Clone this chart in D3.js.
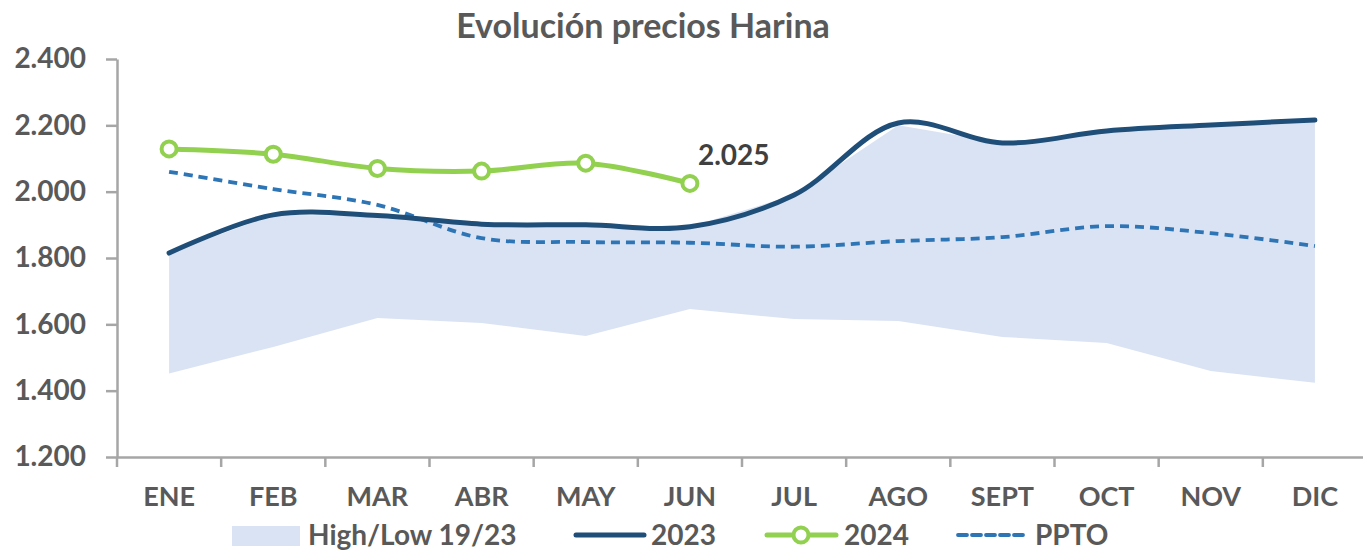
<!DOCTYPE html>
<html><head><meta charset="utf-8">
<script src="https://cdn.jsdelivr.net/npm/d3@7"></script>
<style>body{margin:0;background:#fff;}svg{display:block;font-family:Lato,"Open Sans",sans-serif;}</style>
</head><body>
<svg id="c" width="1363" height="550"></svg>
<script>
const months = ["ENE","FEB","MAR","ABR","MAY","JUN","JUL","AGO","SEPT","OCT","NOV","DIC"];
const high1923 = [1815,1930,1928,1902,1900,1894,1990,2200,2147,2183,2201,2216];
const low1923  = [1452,1532,1619,1604,1565,1646,1616,1610,1562,1544,1459,1424];
const s2023 = [1815,1930,1928,1902,1900,1894,1990,2207,2147,2183,2201,2216];
const s2024 = [2129,2113,2070,2062,2086,2025];
const ppto  = [2060,2008,1960,1860,1848,1846,1834,1851,1863,1896,1875,1836];
const yTicks = [1200,1400,1600,1800,2000,2200,2400];
const title = "Evolución precios Harina";
const legendLabels = ["High/Low 19/23","2023","2024","PPTO"];

const svg = d3.select("#c");
const loc = d3.formatLocale({decimal:",", thousands:".", grouping:[3], currency:["",""]});
const fmt = loc.format(",.0f");
const fmt3 = loc.format(",");

const x = d3.scaleBand().domain(months).range([117, 1367]);
const cx = m => x(m) + x.bandwidth()/2;
const y = d3.scaleLinear().domain([1200, 2400]).range([457, 59]);

// band
const bandData = months.map((m,i)=>({m, lo: low1923[i], hi: high1923[i]}));
svg.append("path").datum(bandData)
  .attr("fill","#dae3f3")
  .attr("d", d3.area().x(d=>cx(d.m)).y0(d=>y(d.lo)).y1(d=>y(d.hi)));

// axes
const gy = svg.append("g").attr("transform","translate(117,0)")
  .call(d3.axisLeft(y).tickValues(yTicks).tickFormat(fmt).tickSizeInner(11).tickSizeOuter(0).tickPadding(20));
gy.select(".domain").attr("stroke","#a6a6a6").attr("stroke-width",2.5);
gy.selectAll(".tick line").attr("stroke","#a6a6a6").attr("stroke-width",2.5);
gy.selectAll(".tick text").attr("fill","#595959").attr("font-size",28).attr("font-weight","bold").attr("font-family","Lato,sans-serif");

const gx = svg.append("g").attr("transform","translate(0,457)")
  .call(d3.axisBottom(x).tickSize(0).tickPadding(30));
gx.select(".domain").attr("stroke","#a6a6a6").attr("stroke-width",2.5);
gx.selectAll(".tick text").attr("fill","#595959").attr("font-size",27).attr("font-weight","bold").attr("font-family","Lato,sans-serif");
// category boundary ticks
const bounds = months.map(m=>x(m)).concat([x.range()[1]]);
gx.selectAll("line.bt").data(bounds).enter().append("line")
  .attr("x1",d=>d).attr("x2",d=>d).attr("y1",0).attr("y2",10)
  .attr("stroke","#a6a6a6").attr("stroke-width",2.5);

const curve = d3.curveCatmullRom.alpha(0.5);

// PPTO
svg.append("path").datum(ppto)
  .attr("fill","none").attr("stroke","#2e75b6").attr("stroke-width",3.8)
  .attr("stroke-dasharray","9,6")
  .attr("d", d3.line().x((d,i)=>cx(months[i])).y(d=>y(d)).curve(curve));

// 2023
svg.append("path").datum(s2023)
  .attr("fill","none").attr("stroke","#1f4e79").attr("stroke-width",5).attr("stroke-linecap","round")
  .attr("d", d3.line().x((d,i)=>cx(months[i])).y(d=>y(d)).curve(curve));

// 2024
svg.append("path").datum(s2024)
  .attr("fill","none").attr("stroke","#92d050").attr("stroke-width",5)
  .attr("d", d3.line().x((d,i)=>cx(months[i])).y(d=>y(d)).curve(curve));
svg.selectAll("circle.p24").data(s2024).enter().append("circle")
  .attr("cx",(d,i)=>cx(months[i])).attr("cy",d=>y(d)).attr("r",7.5)
  .attr("fill","#fff").attr("stroke","#92d050").attr("stroke-width",4);

// data label
const lastI = s2024.length-1;
svg.append("text").attr("x", cx(months[lastI]) + 8).attr("y", y(s2024[lastI]) - 18)
  .attr("fill","#404040").attr("font-size",28).attr("font-weight","bold")
  .text(fmt3(s2024[lastI]));

// title
svg.append("text").attr("x",643).attr("y",38).attr("text-anchor","middle")
  .attr("fill","#595959").attr("font-size",34).attr("font-weight","bold").text(title);

// legend
const lg = svg.append("g").attr("font-size",28).attr("font-weight","bold").attr("fill","#595959");
const ly = 535;
lg.append("rect").attr("x",232).attr("y",526).attr("width",68).attr("height",20).attr("fill","#dae3f3");
lg.append("text").attr("x",308).attr("y",ly+10).text(legendLabels[0]);
lg.append("line").attr("x1",576).attr("x2",644).attr("y1",ly).attr("y2",ly)
  .attr("stroke","#1f4e79").attr("stroke-width",5).attr("stroke-linecap","round");
lg.append("text").attr("x",651).attr("y",ly+10).text(legendLabels[1]);
lg.append("line").attr("x1",767).attr("x2",836).attr("y1",ly).attr("y2",ly)
  .attr("stroke","#92d050").attr("stroke-width",5).attr("stroke-linecap","round");
lg.append("circle").attr("cx",801).attr("cy",ly).attr("r",7.5).attr("fill","#fff").attr("stroke","#92d050").attr("stroke-width",4);
lg.append("text").attr("x",844).attr("y",ly+10).text(legendLabels[2]);
lg.append("line").attr("x1",958).attr("x2",1027).attr("y1",ly).attr("y2",ly)
  .attr("stroke","#2e75b6").attr("stroke-width",3.8).attr("stroke-dasharray","9,5").attr("stroke-linecap","round");
lg.append("text").attr("x",1035).attr("y",ly+10).text(legendLabels[3]);
</script>
</body></html>
